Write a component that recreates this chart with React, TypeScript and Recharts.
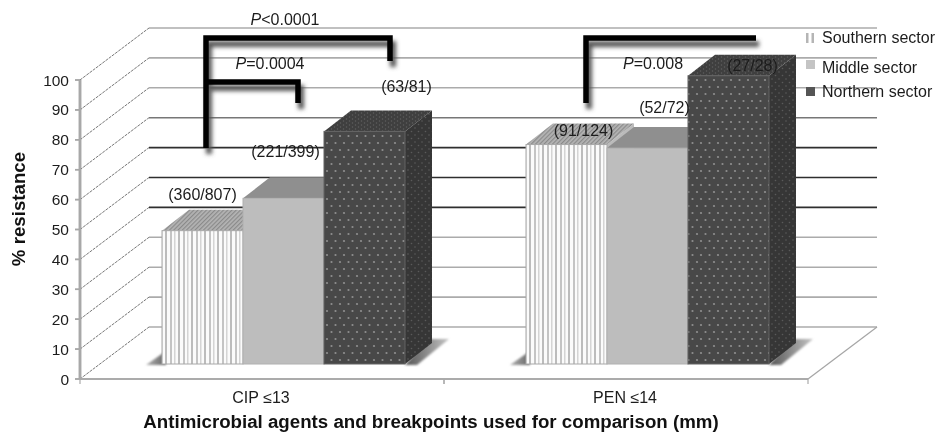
import { BarChart, Bar, XAxis, YAxis, CartesianGrid } from "recharts";

const agents = ["CIP ≤13", "PEN ≤14"];
const southern = [44.6, 73.4];
const middle = [55.4, 72.2];
const northern = [77.8, 96.4];
const southernCounts = ["(360/807)", "(91/124)"];
const middleCounts = ["(221/399)", "(52/72)"];
const northernCounts = ["(63/81)", "(27/28)"];
const yTicks = [0, 10, 20, 30, 40, 50, 60, 70, 80, 90, 100];
const sectorNames = ["Southern sector", "Middle sector", "Northern sector"];

const rows = agents.map((agent, i) => ({
  agent,
  southern: southern[i],
  middle: middle[i],
  northern: northern[i],
}));

// plot box and the fake 3D depth
const PLOT_LEFT = 80;
const PLOT_RIGHT = 808;
const PLOT_TOP = 80;
const PLOT_BOTTOM = 379;
const WALL_DX = 69;
const WALL_DY = 52;
const BAR_DX = 21;
const BAR_DY = 15;
const TOP_DX = 27;
const TOP_DY = 21;
const BAND = (PLOT_RIGHT - PLOT_LEFT) / 2;
const FONT = "'Liberation Sans', Arial, sans-serif";

const gridColor = (value: number) => {
  if (value >= 40 && value <= 60) return "#2e2e2e";
  if (value === 70) return "#777";
  return "#ababab";
};

const poly = (pts: number[][]) => pts.map((p) => p.join(",")).join(" ");

const GridLine = (props: any) => {
  const { x1, x2, y1 } = props;
  const value = Math.round(((PLOT_BOTTOM - y1) / (PLOT_BOTTOM - PLOT_TOP)) * 10) * 10;
  return (
    <g>
      <line x1={x1} y1={y1} x2={x1 + WALL_DX} y2={y1 - WALL_DY} stroke="#666" strokeWidth={0.9} strokeDasharray="3 1" />
      <line x1={x1 + WALL_DX} y1={y1 - WALL_DY} x2={x2 + WALL_DX} y2={y1 - WALL_DY} stroke={gridColor(value)} strokeWidth={1.6} />
      <line x1={x1 - 5} y1={y1} x2={x1} y2={y1} stroke="#a4a4a4" strokeWidth={1.5} />
      {value === 0 && (
        <>
          <line x1={x2} y1={y1} x2={x2 + WALL_DX} y2={y1 - WALL_DY} stroke="#a5a5a5" strokeWidth={1.2} />
          <line x1={x1} y1={PLOT_TOP} x2={x1} y2={y1} stroke="#a4a4a4" strokeWidth={2.5} />
        </>
      )}
    </g>
  );
};

const skins: Record<string, { front: string; top: string; side: string; edge: string }> = {
  southern: { front: "url(#stripes)", top: "url(#hatch)", side: "#bbb", edge: "#a8a8a8" },
  middle: { front: "#bdbdbd", top: "#8f8f8f", side: "#8f8f8f", edge: "#b0b0b0" },
  northern: { front: "url(#dotsFront)", top: "url(#dotsTop)", side: "url(#dotsSide)", edge: "#626262" },
};

// first pass: floor shadows, side and top faces that sit behind everything
const BackFaces = (props: any) => {
  const { x, y, width, height, sector } = props;
  const fx = x + BAR_DX;
  const fy = y - BAR_DY;
  const base = fy + height;
  const skin = skins[sector];
  return (
    <g>
      {sector === "southern" && (
        <polygon points={poly([[fx - 16, base + 1], [fx + 4, base - 13], [fx + 4, base + 1]])} fill="url(#leftShade)" filter="url(#soft)" />
      )}
      {sector === "northern" && (
        <polygon
          points={poly([[fx + width, base + 1], [fx + width + 12, base + 1], [fx + width + 44, base - 25], [fx + width + 24, base - 25]])}
          fill="url(#floorShade)"
          filter="url(#soft)"
        />
      )}
      <polygon
        points={poly([[fx + width, fy], [fx + width + TOP_DX, fy - TOP_DY], [fx + width + TOP_DX, base - TOP_DY], [fx + width, base]])}
        fill={skin.side}
      />
      {sector !== "southern" && (
        <polygon
          points={poly([[fx, fy], [fx + width, fy], [fx + width + TOP_DX, fy - TOP_DY], [fx + TOP_DX, fy - TOP_DY]])}
          fill={skin.top}
        />
      )}
    </g>
  );
};

// second pass: southern top, then the front faces
const FrontFaces = (props: any) => {
  const { x, y, width, height, sector } = props;
  const fx = x + BAR_DX;
  const fy = y - BAR_DY;
  const skin = skins[sector];
  return (
    <g>
      {sector === "southern" && (
        <polygon
          points={poly([[fx, fy], [fx + width, fy], [fx + width + TOP_DX, fy - TOP_DY], [fx + TOP_DX, fy - TOP_DY]])}
          fill={skin.top}
        />
      )}
      <rect x={fx} y={fy} width={width} height={height} fill={skin.front} stroke={skin.edge} strokeWidth={1} />
    </g>
  );
};

// nudges for the n/N counts, relative to each bar's top centre
const countOffsets: Record<string, number[][]> = {
  southern: [[0, -36], [17, -14]],
  middle: [[2, -46], [17, -40]],
  northern: [[42, -44], [24, -10]],
};
const countText: Record<string, string[]> = {
  southern: southernCounts,
  middle: middleCounts,
  northern: northernCounts,
};

const countLabel = (sector: string) => (props: any) => {
  const { x, y, width, index } = props;
  const off = countOffsets[sector][index];
  return (
    <text
      x={x + BAR_DX + width / 2 + off[0]}
      y={y - BAR_DY + off[1] + 5}
      textAnchor="middle"
      fontFamily={FONT}
      fontSize={16}
      fill="#1c1c1c"
    >
      {countText[sector][index]}
    </text>
  );
};

const AgentTick = (props: any) => {
  const { x, payload } = props;
  return (
    <g>
      <line x1={x - BAND / 2} y1={PLOT_BOTTOM} x2={x - BAND / 2} y2={PLOT_BOTTOM + 5} stroke="#aaa" strokeWidth={1.2} />
      <line x1={x + BAND / 2} y1={PLOT_BOTTOM} x2={x + BAND / 2} y2={PLOT_BOTTOM + 5} stroke="#aaa" strokeWidth={1.2} />
      <text x={x - 1} y={PLOT_BOTTOM + 24} textAnchor="middle" fontFamily={FONT} fontSize={16} fill="#1c1c1c">
        {payload.value}
      </text>
    </g>
  );
};

const brackets = [
  "M206 148 V38 H390 V61",
  "M206 82 H298 V103",
  "M586 103 V38 H756",
];
const pValues = [
  { p: "<0.0001", x: 285, y: 25 },
  { p: "=0.0004", x: 270, y: 69 },
  { p: "=0.008", x: 653, y: 69 },
];
const legendRows = [
  { textY: 43, swatchY: 33 },
  { textY: 73, swatchY: 60 },
  { textY: 97, swatchY: 87 },
];

export default function App() {
  return (
    <div style={{ position: "absolute", left: 0, top: 0, width: 937, height: 434, background: "#fff", filter: "blur(0.35px)" }}>
      <BarChart
        width={937}
        height={434}
        data={rows}
        barSize={81}
        barGap={0}
        margin={{ top: PLOT_TOP, right: 937 - PLOT_RIGHT, bottom: 0, left: 0 }}
      >
        <defs>
          <pattern id="stripes" patternUnits="userSpaceOnUse" width="13" height="8">
            <rect width="13" height="8" fill="#fbfbfb" />
            <rect x="1" width="2" height="8" fill="#c4c4c4" />
            <rect x="5" width="1.5" height="8" fill="#d4d4d4" />
            <rect x="9" width="2" height="8" fill="#bcbcbc" />
          </pattern>
          <pattern id="hatch" patternUnits="userSpaceOnUse" width="3" height="3" patternTransform="rotate(45)">
            <rect width="3" height="3" fill="#b4b4b4" />
            <rect width="1.2" height="3" fill="#8a8a8a" />
          </pattern>
          <pattern id="dotsFront" patternUnits="userSpaceOnUse" width="17" height="14">
            <rect width="17" height="14" fill="#484848" />
            <circle cx="4" cy="3" r="1.1" fill="#8e8e8e" />
            <circle cx="12.5" cy="3" r="1.1" fill="#8e8e8e" />
            <circle cx="0" cy="10" r="1.1" fill="#8e8e8e" />
            <circle cx="8.5" cy="10" r="1.1" fill="#8e8e8e" />
            <circle cx="17" cy="10" r="1.1" fill="#8e8e8e" />
          </pattern>
          <pattern id="dotsTop" patternUnits="userSpaceOnUse" width="6" height="4">
            <rect width="6" height="4" fill="#3f3f3f" />
            <circle cx="1.5" cy="1" r="0.7" fill="#5e5e5e" />
            <circle cx="4.5" cy="3" r="0.7" fill="#5e5e5e" />
          </pattern>
          <pattern id="dotsSide" patternUnits="userSpaceOnUse" width="7" height="7">
            <rect width="7" height="7" fill="#363636" />
            <circle cx="2" cy="2" r="0.8" fill="#5a5a5a" />
            <circle cx="5.5" cy="5.5" r="0.8" fill="#5a5a5a" />
          </pattern>
          <linearGradient id="floorShade" x1="0" y1="0" x2="1" y2="0">
            <stop offset="0" stopColor="#555" />
            <stop offset="1" stopColor="#c4c4c4" />
          </linearGradient>
          <linearGradient id="leftShade" x1="0" y1="0" x2="1" y2="0">
            <stop offset="0" stopColor="#b0b0b0" />
            <stop offset="1" stopColor="#666" />
          </linearGradient>
          <filter id="soft" x="-30%" y="-30%" width="160%" height="160%">
            <feGaussianBlur stdDeviation="1.2" />
          </filter>
          <filter id="bracketShadow" x="-10%" y="-30%" width="120%" height="160%">
            <feGaussianBlur stdDeviation="2.2" />
          </filter>
        </defs>

        <CartesianGrid xAxisId="front" horizontal={(p: any) => <GridLine key={p.y1} {...p} />} vertical={false} />

        <XAxis
          xAxisId="front"
          dataKey="agent"
          height={55}
          stroke="#ababab"
          strokeWidth={2}
          tickLine={false}
          interval={0}
          tick={<AgentTick />}
        />
        <XAxis xAxisId="back" dataKey="agent" hide height={0} />
        <YAxis
          type="number"
          domain={[0, 100]}
          ticks={yTicks}
          width={PLOT_LEFT}
          axisLine={{ stroke: "#a8a8a8", strokeWidth: 2.5 }}
          tickLine={{ stroke: "#a8a8a8", strokeWidth: 1.5 }}
          tickSize={5}
          tickMargin={6}
          interval={0}
          tick={{ fill: "#1c1c1c", fontSize: 15.5, fontFamily: FONT }}
        />

        <Bar xAxisId="back" dataKey="southern" isAnimationActive={false} shape={(p: any) => <BackFaces {...p} sector="southern" />} />
        <Bar xAxisId="back" dataKey="middle" isAnimationActive={false} shape={(p: any) => <BackFaces {...p} sector="middle" />} />
        <Bar xAxisId="back" dataKey="northern" isAnimationActive={false} shape={(p: any) => <BackFaces {...p} sector="northern" />} />

        <Bar xAxisId="front" dataKey="southern" isAnimationActive={false} shape={(p: any) => <FrontFaces {...p} sector="southern" />} label={countLabel("southern")} />
        <Bar xAxisId="front" dataKey="middle" isAnimationActive={false} shape={(p: any) => <FrontFaces {...p} sector="middle" />} label={countLabel("middle")} />
        <Bar xAxisId="front" dataKey="northern" isAnimationActive={false} shape={(p: any) => <FrontFaces {...p} sector="northern" />} label={countLabel("northern")} />

        {/* significance brackets */}
        {brackets.map((d) => (
          <path key={d + "s"} d={d} transform="translate(3 6)" fill="none" stroke="#555" strokeWidth={6} filter="url(#bracketShadow)" />
        ))}
        {brackets.map((d) => (
          <path key={d} d={d} fill="none" stroke="#000" strokeWidth={5.5} />
        ))}
        {pValues.map((t) => (
          <text key={t.p} x={t.x} y={t.y} textAnchor="middle" fontFamily={FONT} fontSize={16} fill="#1c1c1c">
            <tspan fontStyle="italic">P</tspan>
            {t.p}
          </text>
        ))}

        {/* legend */}
        <rect x={806} y={legendRows[0].swatchY} width={2.5} height={10} fill="#b5b5b5" />
        <rect x={811.5} y={legendRows[0].swatchY} width={2.5} height={10} fill="#b5b5b5" />
        <rect x={806} y={legendRows[1].swatchY} width={9} height={9} fill="#c4c4c4" />
        <rect x={806} y={legendRows[2].swatchY} width={9} height={9} fill="#555" />
        {sectorNames.map((name, i) => (
          <text key={name} x={822} y={legendRows[i].textY} fontFamily={FONT} fontSize={16} fill="#1c1c1c">
            {name}
          </text>
        ))}

        {/* axis titles */}
        <text x={431} y={428} textAnchor="middle" fontFamily={FONT} fontSize={18.7} fontWeight="bold" fill="#111">
          Antimicrobial agents and breakpoints used for comparison (mm)
        </text>
        <text
          x={25}
          y={209}
          textAnchor="middle"
          transform="rotate(-90 25 209)"
          fontFamily={FONT}
          fontSize={18.7}
          fontWeight="bold"
          fill="#111"
        >
          % resistance
        </text>
      </BarChart>
    </div>
  );
}
